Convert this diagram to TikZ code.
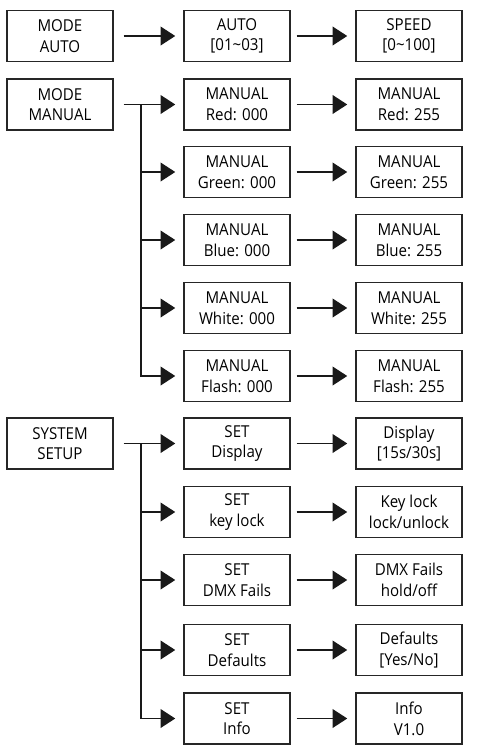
\documentclass[tikz,border=0pt]{standalone}
\usepackage{fontspec}
\setmainfont[FakeStretch=0.92]{Open Sans}
\usetikzlibrary{arrows.meta, positioning, calc}

\begin{document}
\begin{tikzpicture}[
    x=0.75pt, y=-0.75pt,
    % menu box style
    menubox/.style={
        rectangle,
        draw=black!85,
        line width=1.1pt,
        minimum width=79.5pt,
        minimum height=38.5pt,
        inner sep=0pt,
        align=center,
        font=\fontsize{12.3}{15.5}\selectfont
    },
    arrow/.style={
        -{Triangle[length=11pt, width=14pt]},
        line width=1.1pt,
        black!90,
        shorten >=6pt
    },
    trunk/.style={
        line width=1.1pt,
        black!90
    }
]
\useasboundingbox (0,0) rectangle (476,754);

% === Mode auto ===
\node[menubox] (modeauto) at (60, 36) {MODE\\AUTO};
\node[menubox] (auto) at (237, 36) {AUTO\\{[}01\textasciitilde03{]}};
\node[menubox] (speed) at (409, 36) {SPEED\\{[}0\textasciitilde100{]}};

\draw[arrow, shorten <=7.5pt] (modeauto) -- (auto);
\draw[arrow, shorten <=4.5pt] (auto) -- (speed);

% === Mode manual ===
\node[menubox] (modemanual) at (60, 104.5) {MODE\\MANUAL};

\node[menubox] (mred) at (237, 104.5) {MANUAL\\Red: 000};
\node[menubox] (mgreen) at (237, 172) {MANUAL\\Green: 000};
\node[menubox] (mblue) at (237, 240) {MANUAL\\Blue: 000};
\node[menubox] (mwhite) at (237, 308) {MANUAL\\White: 000};
\node[menubox] (mflash) at (237, 376) {MANUAL\\Flash: 000};

\node[menubox] (vred) at (409, 104.5) {MANUAL\\Red: 255};
\node[menubox] (vgreen) at (409, 172) {MANUAL\\Green: 255};
\node[menubox] (vblue) at (409, 240) {MANUAL\\Blue: 255};
\node[menubox] (vwhite) at (409, 308) {MANUAL\\White: 255};
\node[menubox] (vflash) at (409, 376) {MANUAL\\Flash: 255};

\coordinate (mtrunk) at (141, 104.5);
\draw[arrow, shorten <=7.5pt] (modemanual) -- (mred);
\draw[trunk] (mtrunk) -- (mtrunk |- mflash);
\draw[arrow] (mtrunk) |- (mgreen);
\draw[arrow] (mtrunk) |- (mblue);
\draw[arrow] (mtrunk) |- (mwhite);
\draw[arrow] (mtrunk) |- (mflash);

\draw[arrow, shorten <=4.5pt] (mred) -- (vred);
\draw[arrow, shorten <=4.5pt] (mgreen) -- (vgreen);
\draw[arrow, shorten <=4.5pt] (mblue) -- (vblue);
\draw[arrow, shorten <=4.5pt] (mwhite) -- (vwhite);
\draw[arrow, shorten <=4.5pt] (mflash) -- (vflash);

% === System setup ===
\node[menubox] (setup) at (60, 443.5) {SYSTEM\\SETUP};

\node[menubox] (sdisplay) at (237, 443.5) {SET\\Display};
\node[menubox] (skeylock) at (237, 512) {SET\\key lock};
\node[menubox] (sdmx) at (237, 580) {SET\\DMX Fails};
\node[menubox] (sdefaults) at (237, 650) {SET\\Defaults};
\node[menubox] (sinfo) at (237, 718.5) {SET\\Info};

\node[menubox] (odisplay) at (409, 443.5) {Display\\{[}15s/30s{]}};
\node[menubox] (okeylock) at (409, 512) {Key lock\\lock/unlock};
\node[menubox] (odmx) at (409, 580) {DMX Fails\\hold/off};
\node[menubox] (odefaults) at (409, 650) {Defaults\\{[}Yes/No{]}};
\node[menubox] (oinfo) at (409, 718.5) {Info\\V1.0};

\coordinate (strunk) at (141, 443.5);
\draw[arrow, shorten <=7.5pt] (setup) -- (sdisplay);
\draw[trunk] (strunk) -- (strunk |- sinfo);
\draw[arrow] (strunk) |- (skeylock);
\draw[arrow] (strunk) |- (sdmx);
\draw[arrow] (strunk) |- (sdefaults);
\draw[arrow] (strunk) |- (sinfo);

\draw[arrow, shorten <=4.5pt] (sdisplay) -- (odisplay);
\draw[arrow, shorten <=4.5pt] (skeylock) -- (okeylock);
\draw[arrow, shorten <=4.5pt] (sdmx) -- (odmx);
\draw[arrow, shorten <=4.5pt] (sdefaults) -- (odefaults);
\draw[arrow, shorten <=4.5pt] (sinfo) -- (oinfo);

\end{tikzpicture}
\end{document}
